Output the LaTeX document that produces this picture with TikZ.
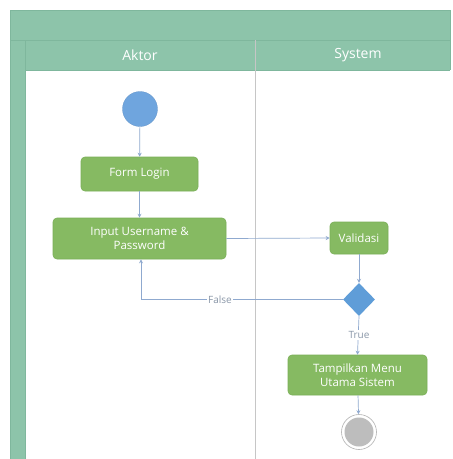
\documentclass[tikz,border=0pt]{standalone}
\usepackage{fontspec}
\setmainfont{Open Sans}
\usetikzlibrary{shapes.geometric,arrows.meta}
\definecolor{lanegreen}{HTML}{8DC4AA}
\definecolor{lanedark}{HTML}{7FB79D}
\definecolor{actgreen}{HTML}{86BA62}
\definecolor{actedge}{HTML}{7AAF57}
\definecolor{startblue}{HTML}{6FA5DE}
\definecolor{decblue}{HTML}{5F9DD8}
\definecolor{flowline}{HTML}{8FA9CF}
\definecolor{endgray}{HTML}{BDBDBD}
\definecolor{guardtext}{HTML}{8A97A8}
\tikzset{
  activity/.style={draw=actedge, fill=actgreen, rounded corners=4pt, text=white,
    font=\fontsize{11.5}{14}\selectfont, align=center, inner sep=0pt, line width=0.6pt},
  flow/.style={draw=flowline, line width=0.7pt, -{Stealth[length=4pt,width=4pt]}},
  lanehead/.style={text=white, font=\fontsize{14}{16}\selectfont},
  guard/.style={text=guardtext, font=\fontsize{10}{12}\selectfont, fill=white, inner sep=1pt}
}
\begin{document}
\begin{tikzpicture}[x=1pt,y=-1pt]
\useasboundingbox (0,0) rectangle (453,459);
\fill[white] (0,0) rectangle (453,459);
% swimlane frame
\fill[lanegreen] (10,10) rectangle (450,40);
\fill[lanegreen] (10,40) rectangle (25,459);
\fill[lanegreen] (25,40) rectangle (450,70);
\draw[lanedark, line width=0.6pt] (10,10) rectangle (450,40);
\draw[lanedark, line width=0.6pt] (10,40) -- (10,459);
\draw[lanedark, line width=0.6pt] (25,40) -- (25,459);
\draw[lanedark, line width=0.6pt] (25,70) -- (450,70);
\draw[lanedark, line width=0.6pt] (450,40) -- (450,70);
\draw[gray!45, line width=0.6pt] (255,40) -- (255,459);
\node[lanehead] (aktor) at (140,55) {Aktor};
\node[lanehead] (system) at (358,55) {System};

% nodes
\node[circle, fill=startblue, draw=startblue!90!black, line width=0.3pt, minimum size=35pt, inner sep=0pt] (start) at (140,109) {};
\node[activity, minimum width=117pt, minimum height=34pt] (form) at (139.5,174) {Form Login};
\node[activity, minimum width=173pt, minimum height=41pt] (input) at (139.5,238.5) {Input Username \&\\Password};
\node[activity, minimum width=58pt, minimum height=32pt] (valid) at (359,238) {Validasi};
\node[diamond, fill=decblue, minimum width=32pt, minimum height=33pt, inner sep=0pt] (dec) at (359,299.5) {};
\node[activity, minimum width=139pt, minimum height=40pt] (menu) at (357.5,375) {Tampilkan Menu\\Utama Sistem};
\node[circle, draw=gray!60, fill=white, line width=0.6pt, minimum size=35pt, inner sep=0pt] (endo) at (359,432) {};
\node[circle, fill=endgray, minimum size=29pt, inner sep=0pt] (endi) at (359,432) {};
\coordinate (loopc) at (141,299.5);

% flows
\draw[flow] (start) -- (form);
\draw[flow] (form) -- (input);
\draw[flow] (input.east) -- (valid.west);
\draw[flow] (valid) -- (dec);
\draw[flow] (dec.west) -- (loopc) -- (loopc |- input.south);
\node[guard] (false) at (220,299.5) {False};
\draw[flow] (dec.south) -- (menu.north);
\node[guard] (true) at (359,335) {True};
\draw[flow] (menu) -- (endo);
\end{tikzpicture}
\end{document}
